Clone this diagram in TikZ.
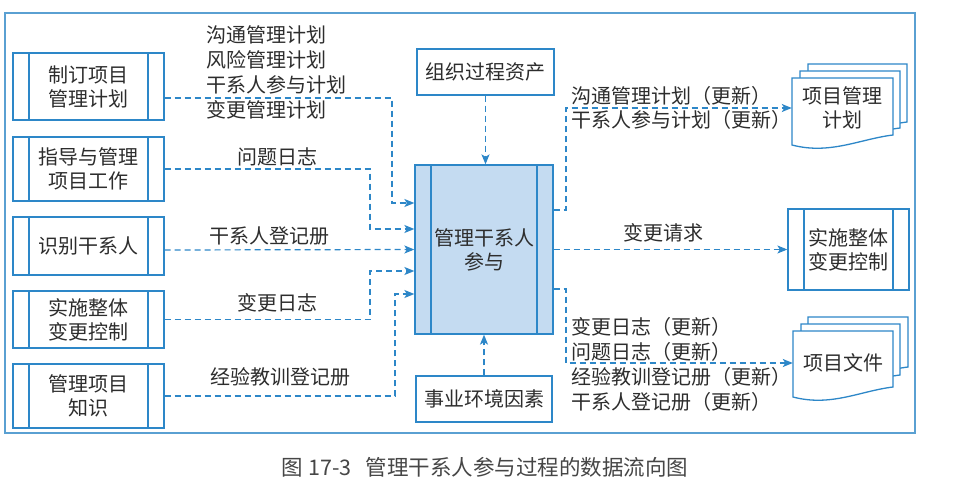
\documentclass[tikz,border=0pt]{standalone}
\usepackage{fontspec}
\newfontfamily\cjk{Noto Sans CJK SC}
\usetikzlibrary{arrows.meta}
\definecolor{lineblue}{RGB}{45,135,200}
\definecolor{frameblue}{RGB}{90,160,210}
\definecolor{fillblue}{RGB}{196,219,241}
\definecolor{txt}{RGB}{45,45,45}
\newcommand\docpage[4]{%
  \filldraw[docline] (#1,#2) -- (#3,#2) -- (#3,#4)
    .. controls (#3-33,#4+4) and (#1+38,#4+20) .. (#1,#4+10) -- cycle;}
\begin{document}
\begin{tikzpicture}[x=1pt,y=-1pt,
  every node/.style={font=\cjk\fontsize{20}{24}\selectfont, text=txt, inner sep=0pt},
  proc/.style={draw=lineblue, line width=1.3pt, fill=white, align=center,
    path picture={\draw[lineblue, line width=1.3pt]
      ([xshift=16pt]path picture bounding box.north west) -- ([xshift=16pt]path picture bounding box.south west)
      ([xshift=-16pt]path picture bounding box.north east) -- ([xshift=-16pt]path picture bounding box.south east);}},
  plainbox/.style={draw=lineblue, line width=1.3pt, fill=white, align=center},
  docline/.style={draw=lineblue, line width=1.3pt, fill=white},
  flow/.style={draw=lineblue, line width=1.2pt, dash pattern=on 6pt off 4pt,
    -{Stealth[length=10pt,width=8pt,inset=2.5pt]}},
  lab/.style={align=left},
]
\fill[white] (0,0) rectangle (972,484);
\useasboundingbox (0,0) rectangle (972,484);
\draw[frameblue, line width=1.2pt] (5,13) rectangle (915,433);

% left process boxes
\node[proc, minimum width=151pt, minimum height=67pt] (b1) at (88.5,86.5) {制订项目\\管理计划};
\node[proc, minimum width=151pt, minimum height=64pt] (b2) at (88.5,169) {指导与管理\\项目工作};
\node[proc, minimum width=151pt, minimum height=58pt] (b3) at (88.5,246) {识别干系人};
\node[proc, minimum width=151pt, minimum height=57pt] (b4) at (88.5,319.5) {实施整体\\变更控制};
\node[proc, minimum width=151pt, minimum height=64pt] (b5) at (88.5,396) {管理项目\\知识};

% centre
\node[proc, fill=fillblue, minimum width=138pt, minimum height=169pt] (cen) at (484,249.5) {管理干系人\\参与};
\node[plainbox, minimum width=137pt, minimum height=46pt] (opa) at (485.5,72) {组织过程资产};
\node[plainbox, minimum width=136pt, minimum height=46pt] (eef) at (484,399) {事业环境因素};

% right
\node[proc, minimum width=121pt, minimum height=81pt] (ich) at (848.5,249.5) {实施整体\\变更控制};

\docpage{808}{64}{907}{122}
\docpage{800}{71}{900}{128}
\docpage{792}{78}{893}{135}
\node[align=center, minimum width=101pt, minimum height=50pt] (pmp) at (842.5,108) {项目管理\\计划};

\docpage{808}{317}{908}{367}
\docpage{801}{324}{900}{375}
\docpage{793}{331}{893}{387}
\node[align=center, minimum width=100pt, minimum height=40pt] (pd) at (843,363) {项目文件};

% input flows
\draw[flow] ([yshift=-11.5pt]b1.east) -- (392,98) -- (392,203) -- ([yshift=46.5pt]cen.west);
\draw[flow] (b2.east) -- (370,169) -- (370,229) -- ([yshift=20.5pt]cen.west);
\draw[flow] ([yshift=-4pt]b3.east) -- (cen.west);
\draw[flow] (b4.east) -- (370,319.5) -- (370,271) -- ([yshift=-21.5pt]cen.west);
\draw[flow] (b5.east) -- (395,396) -- (395,294) -- ([yshift=-44.5pt]cen.west);
\draw[flow] (opa.south) -- (opa.south |- cen.north);
\draw[flow] (eef.north) -- (eef.north |- cen.south);

% output flows
\draw[flow] ([yshift=39.5pt]cen.east) -- (566,210) -- (566,108) -- (pmp.west);
\draw[flow] (cen.east) -- (ich.west);
\draw[flow] ([yshift=-39.5pt]cen.east) -- (566,289) -- (566,363) -- (pd.west);

% labels
\node[lab, anchor=west, font=\cjk\fontsize{20}{25}\selectfont] (l1) at (206,72.5) {沟通管理计划\\风险管理计划\\干系人参与计划\\变更管理计划};
\node (l2) at (277,157) {问题日志};
\node (l3) at (269,236) {干系人登记册};
\node (l4) at (277,303) {变更日志};
\node (l5) at (280,377) {经验教训登记册};
\node[lab, anchor=west] (r1) at (571,108) {沟通管理计划（更新）\\干系人参与计划（更新）};
\node (r2) at (663,233) {变更请求};
\node[lab, anchor=west, font=\cjk\fontsize{20}{25}\selectfont] (r3) at (571,364.5) {变更日志（更新）\\问题日志（更新）\\经验教训登记册（更新）\\干系人登记册（更新）};

% caption
\node[font=\cjk\fontsize{21.5}{24}\selectfont, text={rgb,255:red,70;green,70;blue,70}] (cap) at (485,467) {图 17-3\hspace{14pt}管理干系人参与过程的数据流向图};
\end{tikzpicture}
\end{document}
